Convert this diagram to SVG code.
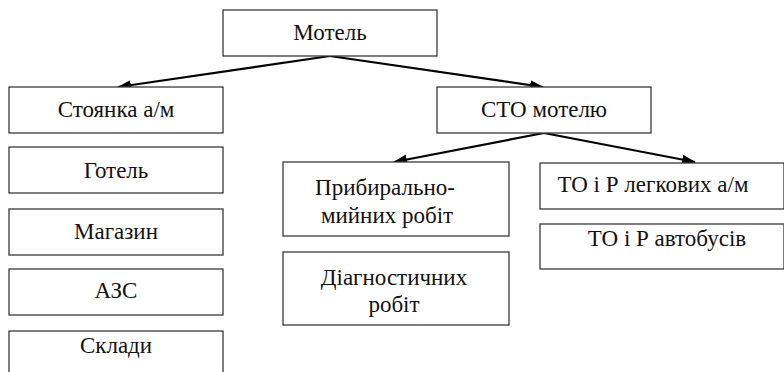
<svg xmlns="http://www.w3.org/2000/svg" width="784" height="372" viewBox="0 0 784 372">
<style>
.box{fill:#fff;stroke:#3a3a3a;stroke-width:1.3}
.t{font-family:"Liberation Serif","Times New Roman",serif;font-size:23px;fill:#111;text-anchor:middle}
.c{stroke:#000;stroke-width:2.2;fill:none}
</style>
<defs>
<marker id="ah" markerUnits="userSpaceOnUse" markerWidth="14" markerHeight="12" viewBox="0 0 14 12" refX="13" refY="6" orient="auto">
<path d="M0,1 L14,6 L0,11 Z" fill="#000"/>
</marker>
</defs>
<rect width="784" height="372" fill="#fff"/>
<g id="connectors">
<line class="c" x1="330" y1="56" x2="118" y2="87" marker-end="url(#ah)"/>
<line class="c" x1="330" y1="56" x2="543" y2="87" marker-end="url(#ah)"/>
<line class="c" x1="544" y1="133" x2="394" y2="162" marker-end="url(#ah)"/>
<line class="c" x1="544" y1="133" x2="695" y2="162" marker-end="url(#ah)"/>
</g>
<g id="motel"><rect class="box" x="223" y="10" width="214" height="46"/><text class="t" x="330" y="40">Мотель</text></g>
<g id="stoyanka"><rect class="box" x="9" y="87" width="214" height="46"/><text class="t" x="116" y="117">Стоянка а/м</text></g>
<g id="gotel"><rect class="box" x="9" y="147" width="214" height="46"/><text class="t" x="116" y="178">Готель</text></g>
<g id="magazyn"><rect class="box" x="9" y="209" width="214" height="46"/><text class="t" x="116" y="239">Магазин</text></g>
<g id="azs"><rect class="box" x="9" y="269" width="214" height="46"/><text class="t" x="116" y="298">АЗС</text></g>
<g id="sklady"><rect class="box" x="9" y="331" width="214" height="46"/><text class="t" x="116" y="353">Склади</text></g>
<g id="sto"><rect class="box" x="437" y="87" width="214" height="46"/><text class="t" x="544" y="117">СТО мотелю</text></g>
<g id="prybyralno"><rect class="box" x="283" y="162" width="226" height="74"/><text class="t" x="385" y="195">Прибирально-</text><text class="t" x="387" y="223">мийних робіт</text></g>
<g id="diagnost"><rect class="box" x="283" y="252" width="226" height="73"/><text class="t" x="394" y="285">Діагностичних</text><text class="t" x="394" y="312">робіт</text></g>
<g id="to_legk"><rect class="box" x="540" y="163" width="244" height="46"/><text class="t" x="653" y="192">ТО і Р легкових а/м</text></g>
<g id="to_avt"><rect class="box" x="540" y="224" width="244" height="45"/><text class="t" x="667" y="246">ТО і Р автобусів</text></g>
</svg>
